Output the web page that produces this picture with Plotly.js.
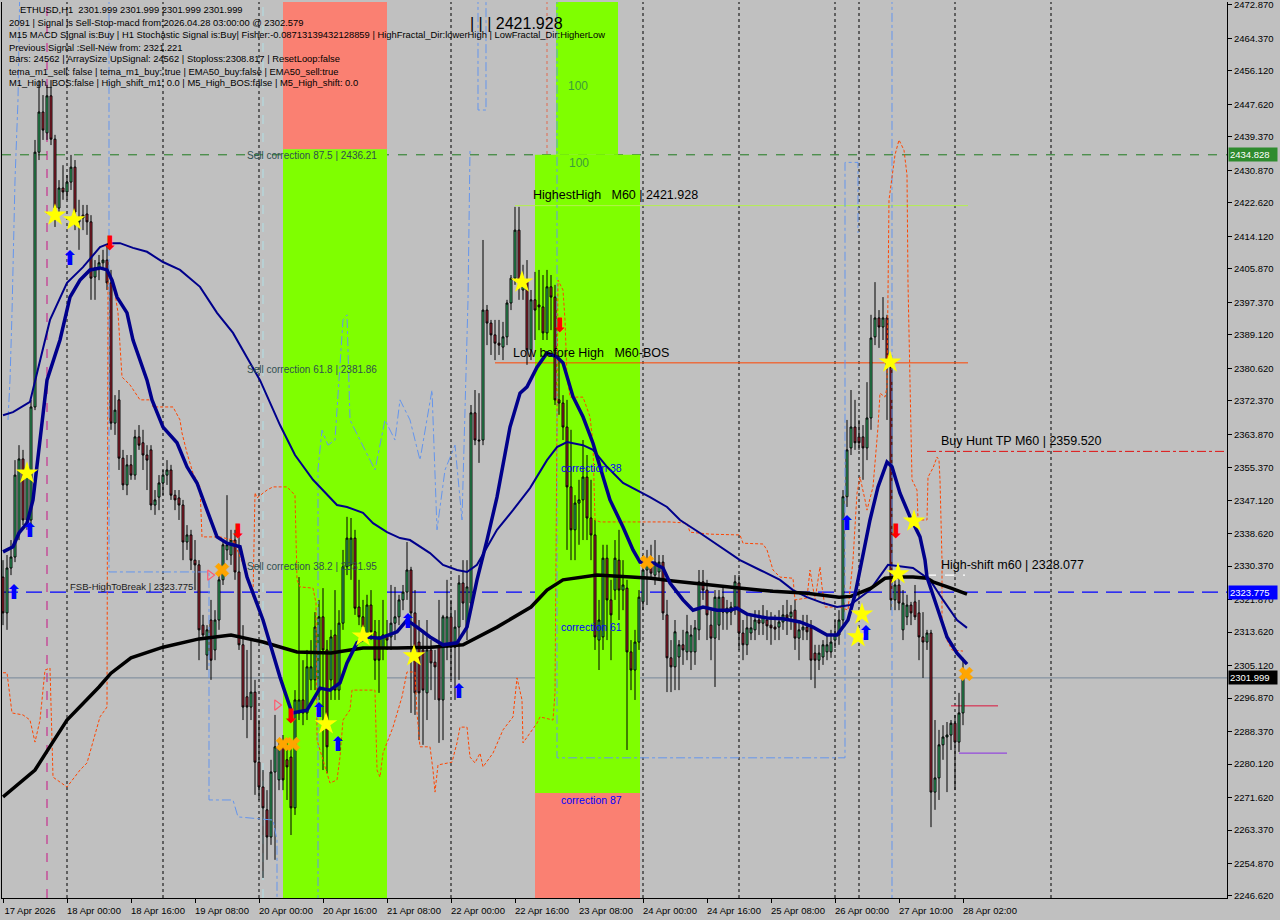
<!DOCTYPE html>
<html><head><meta charset="utf-8">
<script src="https://cdn.plot.ly/plotly-3.0.1.min.js"></script>
<style>html,body{margin:0;padding:0;background:#c0c0c0;overflow:hidden}#chart{width:1280px;height:920px}</style>
</head><body><div id="chart"></div>
<script>
// ---------------- DATA ----------------
const openP = [2327.6,2318.5,2329.9,2332.7,2338.8,2357.6,2342.1,2342.1,2370.8,2435.5,2445.7,2440.4,2449.8,2438.8,2421.3,2426.4,2425.4,2427.9,2431.7,2417.8,
2419.5,2419.8,2417.8,2403.8,2406.1,2407.4,2408.1,2402.3,2366.7,2372.6,2357.8,2351.0,2356.1,2353.5,2363.2,2361.7,2358.6,2359.9,2345.9,2347.9,
2351.5,2353.5,2354.8,2348.4,2347.7,2345.9,2336.5,2338.3,2331.9,2330.7,2315.4,2307.8,2316.7,2309.1,2316.7,2326.9,2334.5,2333.2,2337.0,2328.9,
2310.4,2297.2,2294.6,2298.4,2280.6,2274.3,2268.5,2261.6,2278.1,2276.1,2284.5,2281.2,2281.9,2269.0,2293.1,2296.4,2293.1,2301.5,2301.5,2298.9,
2317.5,2309.1,2301.5,2312.9,2298.9,2315.9,2330.2,2330.7,2337.5,2320.0,2317.5,2313.4,2320.5,2313.7,2312.4,2309.6,2312.9,2312.4,2315.9,2317.5,
2321.8,2323.8,2329.4,2318.5,2311.1,2309.1,2298.2,2309.1,2306.0,2309.8,2296.4,2309.8,2317.5,2309.8,2314.9,2326.1,2314.9,2321.0,2369.3,2362.4,
2362.4,2395.4,2392.1,2389.1,2387.0,2386.0,2388.6,2397.2,2403.5,2415.7,2400.5,2402.5,2385.3,2398.0,2396.7,2396.2,2389.6,2401.3,2398.7,2372.6,
2371.8,2365.7,2350.5,2339.6,2346.4,2347.2,2353.0,2342.6,2338.3,2311.6,2312.4,2332.4,2321.8,2324.3,2331.9,2324.3,2324.8,2308.6,2304.0,2311.1,
2321.3,2329.4,2331.2,2328.1,2328.9,2331.4,2318.0,2307.1,2304.8,2307.3,2310.4,2308.6,2308.6,2308.6,2314.2,2326.4,2324.3,2315.4,2312.1,2315.4,
2322.5,2318.5,2318.7,2320.0,2326.1,2313.4,2310.4,2313.4,2314.2,2316.7,2315.9,2316.7,2315.4,2314.9,2314.9,2316.2,2318.0,2317.5,2319.2,2312.1,
2314.2,2314.9,2314.7,2308.3,2306.5,2307.3,2308.6,2308.6,2311.6,2312.9,2316.7,2348.0,2360.4,2365.7,2363.2,2363.2,2360.4,2368.0,2388.6,2393.4,
2391.1,2393.4,2380.9,2321.8,2325.6,2314.2,2317.5,2320.5,2321.3,2318.5,2312.4,2311.1,2313.4,2273.0,2276.6,2285.0,2287.0,2287.5,2290.5,2285.7,
2293.1];
const highP = [2331.9,2333.2,2337.0,2357.3,2361.1,2359.9,2356.1,2372.6,2438.6,2453.8,2450.0,2452.6,2453.8,2439.9,2428.4,2432.2,2429.7,2434.8,2433.5,2423.4,
2422.1,2422.1,2419.5,2408.1,2409.4,2410.7,2411.9,2405.6,2373.8,2375.1,2359.9,2358.6,2358.6,2365.0,2366.2,2365.0,2361.1,2361.1,2349.7,2353.5,
2354.8,2357.3,2356.1,2349.7,2349.7,2347.2,2340.8,2339.6,2337.0,2331.9,2318.0,2315.4,2321.8,2319.2,2328.1,2337.0,2348.4,2339.6,2339.6,2339.6,
2315.4,2309.1,2311.6,2301.5,2291.3,2278.6,2273.5,2281.2,2292.6,2286.2,2287.5,2286.2,2285.0,2298.9,2327.6,2306.5,2309.1,2311.6,2318.7,2321.8,
2324.8,2311.6,2314.2,2324.3,2319.2,2334.5,2342.9,2342.6,2339.6,2326.9,2321.8,2323.1,2324.3,2316.7,2316.7,2321.8,2316.7,2325.6,2325.1,2323.1,
2325.6,2336.5,2330.2,2324.3,2316.7,2314.2,2316.7,2311.6,2309.1,2321.8,2318.0,2326.9,2321.8,2319.2,2328.1,2331.9,2331.9,2371.3,2375.1,2374.3,
2413.2,2396.7,2392.9,2392.9,2392.9,2392.4,2398.0,2404.3,2421.6,2421.6,2406.9,2408.1,2400.5,2405.1,2405.6,2404.3,2405.6,2404.3,2401.8,2383.0,
2373.8,2372.6,2365.0,2348.4,2352.3,2362.4,2358.6,2352.3,2342.1,2321.8,2335.8,2335.8,2326.9,2337.0,2339.6,2331.9,2326.9,2311.6,2314.2,2324.3,
2333.2,2334.5,2335.8,2337.0,2333.2,2333.2,2321.8,2311.6,2316.7,2311.6,2314.2,2318.0,2315.4,2316.7,2329.4,2329.4,2326.9,2319.2,2324.3,2324.3,
2325.6,2321.8,2321.3,2328.1,2328.1,2316.7,2318.0,2318.0,2319.2,2319.2,2320.5,2319.2,2318.7,2318.0,2319.2,2320.5,2321.8,2320.5,2321.8,2316.7,
2318.0,2318.0,2316.7,2310.4,2310.4,2311.6,2312.9,2314.2,2316.7,2319.2,2349.7,2367.5,2375.1,2372.6,2367.5,2366.2,2377.1,2394.2,2402.5,2395.4,
2398.7,2394.2,2382.7,2328.1,2329.4,2324.3,2323.1,2321.3,2325.6,2321.8,2318.7,2314.2,2314.2,2291.3,2288.8,2290.0,2290.8,2291.3,2292.6,2298.2,
2307.1];
const lowP = [2315.4,2314.2,2328.1,2331.4,2337.0,2340.8,2339.6,2340.8,2370.0,2433.5,2438.6,2438.6,2437.3,2416.5,2419.5,2423.4,2423.4,2425.9,2415.7,2410.7,
2415.7,2414.5,2398.0,2398.0,2403.0,2405.6,2400.5,2365.0,2363.7,2354.8,2349.7,2348.4,2352.3,2352.3,2359.9,2354.8,2349.7,2344.6,2343.4,2344.6,
2348.4,2351.0,2347.2,2344.6,2342.1,2331.9,2334.5,2329.4,2324.3,2306.5,2311.6,2304.0,2301.5,2306.5,2314.2,2325.6,2331.9,2330.7,2326.9,2309.1,
2291.3,2286.7,2291.3,2272.3,2271.0,2251.2,2255.8,2259.6,2255.8,2273.5,2273.5,2271.0,2262.1,2267.2,2291.3,2290.0,2291.3,2298.9,2298.9,2296.4,
2278.6,2277.8,2296.4,2296.4,2296.4,2314.2,2328.1,2326.9,2318.0,2315.4,2311.6,2311.6,2311.6,2301.5,2298.2,2306.5,2309.1,2309.1,2311.6,2315.4,
2319.2,2321.8,2293.1,2292.6,2286.2,2285.0,2291.3,2298.9,2296.4,2285.5,2286.2,2306.5,2301.5,2296.4,2301.5,2316.7,2311.6,2319.2,2361.1,2356.6,
2361.1,2386.5,2384.0,2382.7,2384.0,2382.7,2386.5,2395.4,2401.8,2398.0,2398.0,2381.5,2382.7,2387.8,2390.3,2387.8,2387.8,2390.3,2371.3,2368.8,
2362.4,2334.5,2331.9,2331.9,2335.8,2337.0,2337.0,2331.9,2309.1,2304.0,2309.1,2311.6,2306.5,2321.8,2316.7,2319.2,2283.7,2298.9,2296.4,2309.1,
2319.2,2320.5,2326.9,2325.6,2326.9,2316.7,2298.4,2298.4,2298.9,2298.9,2305.3,2306.5,2304.0,2305.3,2311.6,2321.8,2311.6,2306.5,2299.7,2311.6,
2314.2,2314.2,2315.4,2318.0,2309.1,2306.5,2307.8,2311.6,2311.6,2312.9,2312.9,2311.6,2310.4,2311.6,2311.6,2314.2,2312.9,2314.2,2309.1,2306.5,
2311.6,2311.6,2301.5,2299.4,2304.0,2305.3,2306.5,2307.1,2309.6,2310.4,2315.4,2345.4,2358.6,2359.9,2359.9,2352.3,2357.3,2365.0,2386.5,2385.8,
2387.8,2367.5,2319.2,2319.2,2319.2,2311.6,2315.4,2315.4,2316.7,2306.5,2302.0,2309.1,2264.1,2268.5,2271.0,2281.2,2273.0,2283.7,2273.5,2283.2,
2290.0];
const closeP = [2318.5,2329.9,2332.7,2353.5,2357.6,2342.1,2354.8,2370.8,2435.5,2445.7,2441.1,2449.8,2438.8,2421.3,2426.4,2425.4,2427.9,2431.7,2420.3,2419.0,
2418.8,2417.8,2403.5,2406.1,2407.4,2408.1,2402.3,2366.7,2370.0,2357.8,2351.0,2356.1,2353.5,2363.2,2361.1,2358.6,2357.3,2345.9,2347.2,2351.5,
2353.5,2354.8,2348.4,2347.2,2345.9,2336.5,2338.3,2331.9,2330.7,2314.2,2312.9,2314.2,2306.5,2316.7,2326.9,2335.8,2335.8,2337.0,2328.9,2310.4,
2294.6,2294.6,2298.4,2280.6,2274.3,2269.0,2261.6,2278.1,2284.5,2284.5,2276.1,2279.4,2269.0,2296.4,2296.4,2293.1,2304.8,2304.8,2314.9,2317.5,
2309.1,2284.5,2312.4,2298.9,2315.9,2330.2,2337.5,2337.5,2319.7,2317.5,2314.9,2320.5,2313.7,2306.5,2306.5,2312.9,2311.6,2315.9,2317.5,2321.8,
2323.8,2329.4,2318.5,2298.2,2298.2,2298.9,2309.1,2305.8,2304.8,2296.4,2317.5,2317.5,2309.8,2314.9,2326.1,2321.0,2325.1,2369.3,2362.4,2362.2,
2395.4,2392.1,2389.1,2387.0,2386.5,2388.6,2397.2,2403.5,2415.7,2402.3,2402.5,2385.3,2398.0,2395.4,2396.2,2389.6,2401.3,2398.7,2372.6,2371.8,
2365.7,2350.5,2339.6,2346.4,2347.2,2353.0,2342.6,2338.3,2312.4,2316.7,2332.4,2321.8,2318.0,2332.4,2324.3,2325.6,2308.6,2304.0,2311.1,2322.5,
2329.4,2331.4,2328.6,2331.4,2331.4,2318.5,2307.1,2304.8,2313.7,2310.4,2309.1,2313.7,2312.9,2314.7,2326.4,2324.3,2318.0,2312.1,2322.5,2322.5,
2318.7,2319.7,2320.0,2326.4,2313.4,2310.4,2314.7,2314.7,2316.7,2315.9,2317.5,2315.2,2314.7,2314.4,2316.2,2318.0,2317.2,2318.7,2312.1,2314.2,
2314.9,2313.7,2306.5,2306.5,2308.3,2310.4,2310.4,2311.1,2312.9,2316.7,2348.0,2359.9,2365.7,2361.7,2361.7,2360.4,2368.0,2388.3,2393.4,2391.1,
2393.4,2380.9,2321.8,2325.6,2321.0,2321.0,2320.5,2318.5,2317.5,2312.4,2311.1,2313.4,2273.0,2276.6,2285.0,2287.0,2287.5,2290.5,2285.7,2293.1,
2302.0];
const barIdx = openP.map((_, i) => i);

const tickIdx = [0,16,32,48,64,80,96,112,128,144,160,176,192,208,224,240];
const tickText = ['17 Apr 2026','18 Apr 00:00','18 Apr 16:00','19 Apr 08:00','20 Apr 00:00','20 Apr 16:00','21 Apr 08:00','22 Apr 00:00','22 Apr 16:00','23 Apr 08:00','24 Apr 00:00','24 Apr 16:00','25 Apr 08:00','26 Apr 00:00','27 Apr 10:00','28 Apr 02:00'];
const priceTicks = [2472.870,2464.370,2456.120,2447.620,2439.370,2430.870,2422.620,2414.120,2405.870,2397.370,2389.120,2380.620,2372.370,2363.870,2355.370,2347.120,2338.620,2330.370,2321.870,2313.620,2305.120,2296.870,2288.370,2280.120,2271.620,2263.370,2254.870,2246.620];

// moving averages (bar index, price)
const maSlowIdx = [0,8,12,16,24,27,32,40,49,57,65,73.5,82,90,98.5,107,115,119,123.5,132,136,140,145,148.5,157,162,167.5,176,184,192.5,201,209,212,217,220.5,224,227.5,231,232.5,237,241];
const maSlowVal = [2271.8,2278.6,2285.0,2291.3,2299.7,2303.2,2307.1,2309.8,2311.9,2312.9,2311.1,2308.6,2308.3,2309.6,2309.6,2309.8,2310.4,2312.4,2314.9,2320.0,2324.3,2326.9,2327.6,2328.1,2327.6,2327.3,2326.6,2325.6,2324.8,2324.0,2323.5,2322.5,2322.7,2324.8,2327.3,2327.6,2327.6,2327.3,2326.4,2324.8,2323.3];
const maFastIdx = [0,2.5,4,6,7.5,9,10,11,14.25,16.75,19.25,21.75,24.25,26,27.25,28.5,31,32.5,36,37.25,40,43.5,46,48.5,51,53.5,56,59.25,61,65,69.25,72.25,76,79.25,81.75,84.25,86,88.5,91,94.25,98.5,101,103.5,106.75,110,113.5,116,118.5,121,123.5,126.75,129.25,131,133.5,136,138.5,140,142.5,145,147.5,149.25,151.75,155,157.5,159.25,162.5,165,166.75,170,172.5,175,178.5,181.75,183.5,186,191,195,199.25,202.5,206,208.5,211.25,213,214.75,216.75,218.75,221,222.25,224.25,226.75,229.25,230.5,231,233.5,236,238.5,241];
const maFastVal = [2334.0,2335.3,2338.8,2341.3,2347.2,2359.9,2370.0,2377.6,2387.8,2398.7,2403.0,2405.6,2406.1,2405.6,2403.0,2398.7,2394.7,2387.8,2377.6,2372.6,2365.7,2361.7,2355.6,2351.5,2344.6,2337.8,2336.2,2335.3,2327.6,2316.7,2302.2,2293.1,2293.8,2299.4,2298.9,2300.7,2305.8,2310.9,2312.4,2312.1,2313.7,2316.7,2314.9,2312.4,2310.4,2310.9,2314.9,2326.9,2337.0,2347.9,2365.7,2374.3,2375.9,2380.9,2384.5,2383.5,2382.0,2373.4,2368.3,2361.6,2355.6,2347.2,2340.3,2334.5,2331.4,2331.2,2329.9,2326.1,2321.8,2319.2,2320.0,2319.2,2319.2,2319.7,2318.2,2317.2,2317.0,2316.2,2314.9,2312.9,2312.9,2316.7,2323.1,2331.9,2342.1,2350.5,2356.8,2355.6,2348.9,2342.9,2337.8,2331.9,2327.6,2320.0,2312.4,2308.3,2305.5];
const maMidIdx = [0,2.5,6.75,8.25,11.75,16,20,24.25,26.75,29.25,32.5,36,40,44.25,49.25,53.5,57.5,61.75,64.25,69.25,73,77.5,83.5,86,90,92.5,96,99.25,101.75,106.75,110,113.5,116,118.5,121,123.5,127.5,131.75,136,138.5,141,145,147.5,151,155,158.5,161.75,166,169.25,174.25,179.25,184.25,189.25,194.25,197.5,201,205,208.5,211.75,216.75,221.25,224.25,227.5,231.75,235,238.5,241];
const maMidVal = [2368.7,2369.5,2372.1,2378.4,2392.9,2402.3,2406.3,2411.4,2412.4,2412.4,2411.2,2410.2,2407.6,2405.6,2401.3,2394.7,2389.6,2382.0,2377.6,2366.2,2358.6,2352.3,2345.9,2345.4,2343.9,2341.3,2339.0,2337.5,2337.0,2333.7,2330.7,2329.4,2328.9,2330.7,2335.3,2339.6,2344.6,2350.2,2357.3,2360.6,2361.9,2361.1,2359.9,2355.6,2351.5,2349.7,2347.9,2345.4,2342.1,2338.8,2335.3,2331.9,2329.4,2326.9,2324.3,2322.5,2321.0,2320.0,2320.5,2324.3,2330.7,2330.4,2329.9,2326.9,2321.8,2316.7,2314.7];

// orange dashed envelope
const envIdx = [0,1,2.25,5,6.75,8,9.25,10.5,11.75,12.5,16,19.25,21,24.25,26,26.25,26.75,28,28.75,29.75,31.75,34.25,37.25,37.5,42.5,44.25,44.75,46,47.5,49.25,49.75,54.25,57.5,59.25,61,62.5,63,63.5,66,67.5,71,73,73.5,74.25,77.5,78.25,78.5,81.75,83.5,84.25,85,86.75,87.25,93,93.5,94.25,95,97.5,99.75,101,103,103.5,104.25,106.75,107.5,108,108.75,112.25,113.5,114.25,116,116.75,118,119.25,120,122.5,125,127.5,128.5,129.75,130,131.75,133.5,134.25,137.5,138,138.75,140,140.5,141,141.75,145,146.75,147.5,148,149.25,166.75,171,171.75,176.75,184.25,185,190,191,192.5,194.25,197.5,198,201,201.75,203,204.25,204.75,205.5,209.25,211.25,212.5,213.5,214.25,215.5,216,217.5,218.75,219.25,220.5,221,221.5,223,224,225.25,226,226.25,227.25,228.5,228.75,231,231.25,232.5,233.5,234,234.25,234.75,234.75,236,237.25,240];
const envVal = [2303.3,2303.3,2293.1,2292.6,2291.3,2285.7,2291.3,2304.0,2304.5,2276.8,2274.3,2278.6,2280.4,2292.1,2294.6,2403.0,2403.8,2399.7,2394.7,2378.4,2376.4,2372.6,2372.6,2370.8,2370.8,2367.5,2364.2,2359.1,2354.0,2350.5,2337.8,2337.8,2337.0,2332.7,2328.6,2322.5,2349.0,2347.7,2349.7,2350.5,2350.5,2348.4,2326.9,2325.1,2324.8,2321.0,2286.2,2275.3,2276.1,2281.9,2291.3,2293.9,2298.9,2298.9,2278.6,2276.8,2282.9,2289.5,2297.2,2303.5,2303.5,2293.1,2284.5,2284.5,2278.6,2273.0,2279.9,2280.6,2285.5,2289.5,2289.5,2281.9,2280.4,2282.9,2279.4,2282.9,2288.8,2292.1,2302.0,2296.4,2285.5,2288.0,2290.5,2292.1,2291.3,2298.2,2403.0,2400.5,2392.9,2378.4,2373.3,2373.3,2368.3,2361.6,2342.1,2341.6,2341.6,2341.3,2339.0,2338.5,2338.3,2336.2,2336.0,2334.5,2329.4,2327.6,2327.3,2321.8,2322.3,2329.4,2321.8,2330.2,2325.1,2320.0,2320.0,2319.2,2331.9,2348.9,2353.0,2347.2,2344.6,2350.5,2365.7,2374.3,2373.3,2375.9,2423.4,2434.8,2438.6,2436.0,2429.7,2402.3,2352.3,2349.7,2342.1,2342.1,2353.0,2355.3,2358.1,2357.3,2352.3,2331.9,2315.9,2311.6,2309.1,2308.8];

// light blue dash-dot guide lines
const guideA_Idx = [1.25,1.75,2.25,3,3.75,4.25];
const guideA_Val = [2367.5,2377.6,2394.7,2428.4,2448.8,2480];
const guideB_Idx = [26.5,26.5,51,51.5,51.5,57.5,58.75,67.5,68.5,68.5];
const guideB_Val = [2480,2328.9,2328.9,2328.9,2271.0,2271.0,2266.7,2265.9,2260.8,2240];
const guideC_Idx = [138.5,138.5,210,210.5,210.5,213.75,213.75];
const guideC_Val = [2480,2281.7,2281.7,2281.7,2432.9,2432.9,2415.0];
const guideD_Idx = [222.25,222.25];
const guideD_Val = [2480,2240];
const guideE_Idx = [78.75,78.75,79.75,81.25,83,85,86,86.75,89.25,93,95.5,98,99.25,101.75,104.25,107.25,108.5,110.5,113,114.75,116.25,116.75];
const guideE_Val = [2240,2355.0,2364.9,2361.1,2362.4,2392.9,2394.2,2367.5,2362.4,2354.8,2367.5,2362.4,2372.6,2367.5,2357.3,2375.1,2339.6,2354.8,2361.1,2342.1,2397.9,2436.0];
const guideF_Idx = [118.75,118.75,120.75,120.75];
const guideF_Val = [2480,2446.2,2446.2,2480];

// signals
const starIdx = [6,13,17.75,80.75,90,102.75,129.75,213.75,214.75,221.75,223.75,227.75];
const starVal = [2354.0,2419.5,2418.3,2290.3,2312.6,2307.6,2402.5,2312.4,2318.2,2382.2,2328.4,2341.8];
const upIdx = [2.75,6.75,16.75,79,83.75,101.25,114,211,215.75];
const upVal = [2323.3,2339.1,2408.1,2293.3,2284.7,2315.9,2298.2,2340.8,2312.9];
const downIdx = [26.75,58.75,72,139.25,223.25];
const downVal = [2411.9,2338.8,2291.8,2391.1,2338.8];
const crossIdx = [54.75,70,72.5,161,240.75];
const crossVal = [2329.4,2285.2,2285.2,2331.4,2303.0];
const hollowIdx = [51.75,68.5];
const hollowVal = [2328.1,2295.1];

// levels
const levelMain = 2434.828, levelBreak = 2323.775, levelLast = 2301.999;
const highestHigh = 2421.928, lowBeforeHigh = 2382.0, buyHuntTP = 2359.520, highShift = 2328.077;
const stopRed = 2294.9, stopPurple = 2282.9;
const fibSell875 = 2436.21, fib87 = 2272.8;
const daySeps = [16,40,64,112,160,184,208,214,238,262];

// ---------------- LAYOUT HELPERS ----------------
const W = 1280, H = 920, ML = 2, MR = 53, MT = 2, MB = 22;
const PW = W - ML - MR, PH = H - MT - MB;
const px = v => (v - ML) / PW;
const py = v => 1 - (v - MT) / PH;
const FONT = 'Liberation Sans, Arial, sans-serif';

const traces = [];
const dashBlue = {color: '#6495ed', width: 1, dash: 'dashdot'};
[[guideA_Idx, guideA_Val],[guideB_Idx, guideB_Val],[guideC_Idx, guideC_Val],[guideD_Idx, guideD_Val],[guideE_Idx, guideE_Val],[guideF_Idx, guideF_Val]].forEach(g => {
  traces.push({type: 'scatter', mode: 'lines', x: g[0], y: g[1], line: dashBlue, hoverinfo: 'skip'});
});
traces.push({type: 'scatter', mode: 'lines', x: envIdx, y: envVal, line: {color: '#ff4500', width: 1, dash: '3px,2px'}, hoverinfo: 'skip'});
traces.push({type: 'candlestick', x: barIdx, open: openP, high: highP, low: lowP, close: closeP,
  increasing: {line: {color: '#000000', width: 1}, fillcolor: '#3cd47c'},
  decreasing: {line: {color: '#000000', width: 1}, fillcolor: '#c8283c'},
  whiskerwidth: 0, hoverinfo: 'skip'});
traces.push({type: 'scatter', mode: 'lines', x: maMidIdx, y: maMidVal, line: {color: '#00008b', width: 2}, hoverinfo: 'skip'});
traces.push({type: 'scatter', mode: 'lines', x: maSlowIdx, y: maSlowVal, line: {color: '#000000', width: 3.5}, hoverinfo: 'skip'});
traces.push({type: 'scatter', mode: 'lines', x: maFastIdx, y: maFastVal, line: {color: '#00008b', width: 3.5}, hoverinfo: 'skip'});
traces.push({type: 'scatter', mode: 'markers', x: starIdx, y: starVal, marker: {symbol: 'star', size: 17, color: '#ffff00', line: {width: 0}}, hoverinfo: 'skip'});
traces.push({type: 'scatter', mode: 'markers', x: crossIdx, y: crossVal, marker: {symbol: 'x', size: 12, color: '#ffa500', line: {width: 0.8, color: '#ffa500'}}, hoverinfo: 'skip'});
traces.push({type: 'scatter', mode: 'markers', x: hollowIdx, y: hollowVal, marker: {symbol: 'triangle-right-open', size: 9, color: '#ff5a6e', line: {width: 1.2}}, hoverinfo: 'skip'});
traces.push({type: 'scatter', mode: 'text', x: upIdx, y: upVal, text: upIdx.map(() => '⬆'), textfont: {family: 'DejaVu Sans', size: 20, color: '#0000ff'}, hoverinfo: 'skip'});
traces.push({type: 'scatter', mode: 'text', x: downIdx, y: downVal, text: downIdx.map(() => '⬇'), textfont: {family: 'DejaVu Sans', size: 20, color: '#ff0000'}, hoverinfo: 'skip'});

const shapes = [];
const rect = (x0, x1, y0, y1, c) => shapes.push({type: 'rect', xref: 'x', yref: 'y', x0, x1, y0, y1, fillcolor: c, line: {width: 0}, layer: 'below'});
rect(70, 96, fibSell875, 2480, '#fa8072');
rect(70, 96, 2240, fibSell875, '#7fff00');
rect(138.25, 153.75, levelMain, 2480, '#7fff00');
rect(133, 159.25, fib87, levelMain, '#7fff00');
rect(133, 159.25, 2240, fib87, '#fa8072');
daySeps.forEach(d => shapes.push({type: 'line', xref: 'x', yref: 'paper', x0: d, x1: d, y0: 0, y1: 1, line: {color: '#000000', width: 1, dash: 'dot'}, layer: 'below'}));
shapes.push({type: 'line', xref: 'x', yref: 'paper', x0: 88, x1: 88, y0: 0, y1: 1, line: {color: '#e0609a', width: 1, dash: 'dot'}, layer: 'below'});
shapes.push({type: 'line', xref: 'x', yref: 'paper', x0: 136, x1: 136, y0: 0, y1: 1, line: {color: '#e06a50', width: 1, dash: 'dot'}, layer: 'below'});
shapes.push({type: 'line', xref: 'x', yref: 'paper', x0: 11, x1: 11, y0: 0, y1: 1, line: {color: '#c71585', width: 1, dash: 'dash'}, layer: 'below'});
shapes.push({type: 'line', xref: 'x', yref: 'paper', x0: 65, x1: 65, y0: 0, y1: 1, line: {color: '#b0e0e6', width: 1, dash: 'dash'}, layer: 'below'});
const hline = (y, c, dash, w, x0, x1, xref) => shapes.push({type: 'line', xref: xref || 'paper', yref: 'y', x0: x0 === undefined ? 0 : x0, x1: x1 === undefined ? 1 : x1, y0: y, y1: y, line: {color: c, width: w || 1, dash}, layer: 'below'});
hline(levelMain, '#1e7b1e', 'dash');
hline(levelLast, '#778899', 'solid');
hline(levelBreak, '#0000ff', '16px,8px', 1.3);
hline(highestHigh, '#b4f050', 'solid', 1, 128, 241.25, 'x');
hline(lowBeforeHigh, '#ff4500', 'solid', 1, 123, 241.25, 'x');
hline(buyHuntTP, '#e01010', 'dashdot', 1, 231, 306, 'x');
hline(highShift, '#ffffff', 'dash', 1.3, 231, 240.5, 'x');
hline(stopRed, '#dc143c', 'solid', 1, 237, 248.75, 'x');
hline(stopPurple, '#8a2be2', 'solid', 1, 239, 251, 'x');

const ann = [];
const info = [
  ['ETHUSD,H1  2301.999 2301.999 2301.999 2301.999', 18, 10],
  ['2091 | Signal is Sell-Stop-macd from:2026.04.28 03:00:00 @ 2302.579', 7, 22],
  ['M15 MACD Signal is:Buy | H1 Stochastic Signal is:Buy| Fisher:-0.08713139432128859 | HighFractal_Dir:lowerHigh | LowFractal_Dir:HigherLow', 7, 35],
  ['Previous Signal :Sell-New from: 2321.221', 7, 47],
  ['Bars: 24562 | ArraySize UpSignal: 24562 | Stoploss:2308.817 | ResetLoop:false', 7, 59],
  ['tema_m1_sell: false | tema_m1_buy: true | EMA50_buy:false | EMA50_sell:true', 7, 71],
  ['M1_High_BOS:false | High_shift_m1: 0.0 | M5_High_BOS:false | M5_High_shift: 0.0', 7, 83]
];
info.forEach(r => ann.push({xref: 'paper', yref: 'paper', x: px(r[1]), y: py(r[2]), xanchor: 'left', yanchor: 'middle', text: r[0], showarrow: false, font: {family: FONT, size: 9.4, color: '#000000'}}));
const txt = (t, x, y, size, color) => ann.push({xref: 'paper', yref: 'paper', x: px(x), y: py(y), xanchor: 'left', yanchor: 'middle', text: t, showarrow: false, font: {family: FONT, size, color}});
txt('| | | 2421.928', 468, 23, 16, '#000000');
txt('Sell correction 87.5 | 2436.21', 245, 155, 10, '#2f4f4f');
txt('Sell correction 61.8 | 2381.86', 245, 369, 10, '#2f4f4f');
txt('Sell correction 38.2 | 2331.95', 245, 566, 10, '#2f4f4f');
txt('100', 566, 86, 12, '#3c9c3c');
txt('100', 567, 163, 12, '#3c9c3c');
txt('HighestHigh   M60 | 2421.928', 531, 195, 12.5, '#000000');
txt('Low before High   M60-BOS', 511, 353, 12.5, '#000000');
txt('correction 38', 559, 468, 10.5, '#0000ff');
txt('correction 61', 559, 627, 10.5, '#0000ff');
txt('correction 87', 559, 800, 10.5, '#0000ff');
txt('Buy Hunt TP M60 | 2359.520', 939, 441, 12.5, '#000000');
txt('High-shift m60 | 2328.077', 939, 565, 12.5, '#000000');
txt('FSB-HighToBreak | 2323.775', 68, 586, 9.5, '#202020');
const box = (v, bg) => ann.push({xref: 'paper', yref: 'y', x: 1, y: v, xanchor: 'left', yanchor: 'middle', xshift: 1, text: v.toFixed(3), showarrow: false, bgcolor: bg, borderpad: 1, width: 46, align: 'left', font: {family: FONT, size: 9.5, color: '#ffffff'}});
box(levelMain, '#2e8b2e');
box(levelBreak, '#0000ff');
box(levelLast, '#000000');

const layout = {
  width: W, height: H,
  margin: {l: ML, r: MR, t: MT, b: MB},
  paper_bgcolor: '#c0c0c0', plot_bgcolor: '#c0c0c0',
  showlegend: false,
  xaxis: {range: [-0.25, 306], tickmode: 'array', tickvals: tickIdx, ticktext: tickText, ticks: 'outside', ticklen: 4, tickcolor: '#000',
    showline: true, linecolor: '#000', linewidth: 1, showgrid: false, zeroline: false, rangeslider: {visible: false},
    tickfont: {family: FONT, size: 9.5, color: '#000'}, ticklabelshift: 27, fixedrange: true},
  yaxis: {side: 'right', range: [2246.11, 2473.63], tickmode: 'array', tickvals: priceTicks, ticktext: priceTicks.map(v => v.toFixed(3)),
    ticks: 'outside', ticklen: 4, tickcolor: '#000', showline: true, mirror: true, linecolor: '#000', linewidth: 1, showgrid: false, zeroline: false,
    tickfont: {family: FONT, size: 9.5, color: '#000'}, ticklabeloverflow: 'allow', fixedrange: true},
  shapes, annotations: ann
};
Plotly.newPlot('chart', traces, layout, {displayModeBar: false, staticPlot: true});
</script></body></html>
